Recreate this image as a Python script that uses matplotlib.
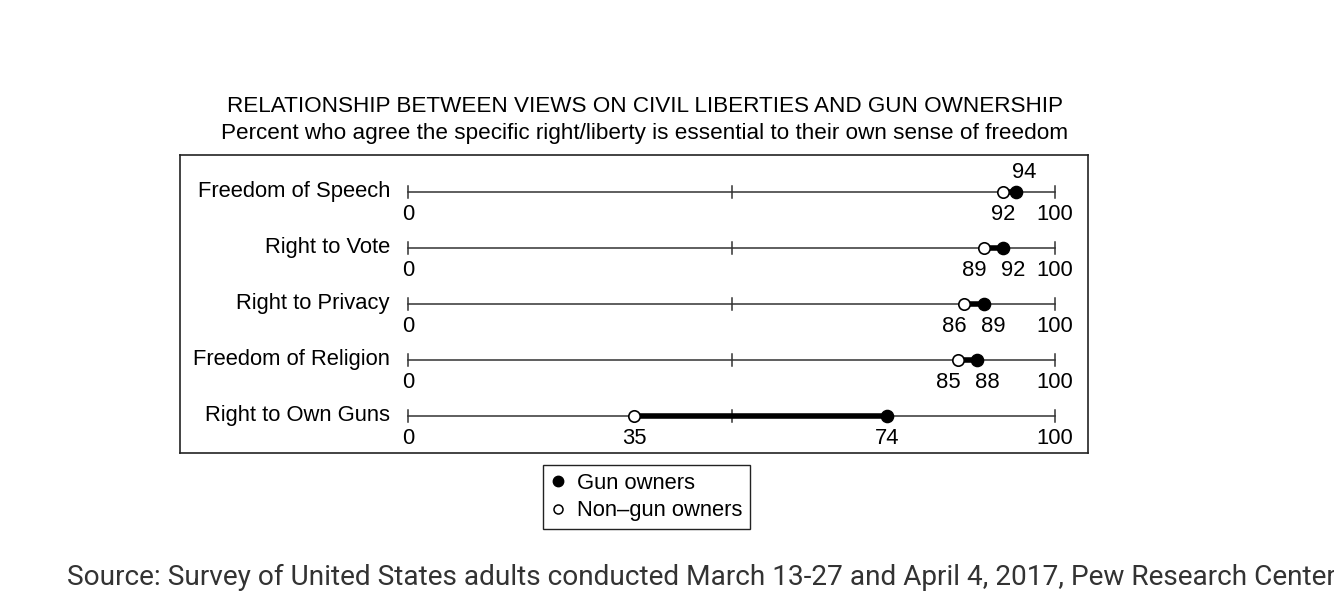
import numpy as np
import matplotlib.pyplot as plt
from matplotlib.lines import Line2D

# ข้อมูล
rights = ['Freedom of Speech', 'Right to Vote', 'Right to Privacy',
          'Freedom of Religion', 'Right to Own Guns']
gun_owners = [94, 92, 89, 88, 74]
non_gun_owners = [92, 89, 86, 85, 35]
axis_ticks = [0, 50, 100]

W, H = 1334, 592
fig = plt.figure(figsize=(W / 100, H / 100), dpi=100)
plt.rcParams['font.family'] = ['Liberation Sans', 'DejaVu Sans']

# กรอบของกราฟ (พิกเซล)
left, right, top, bottom = 180, 1088, 155, 453
ax = fig.add_axes([left / W, 1 - bottom / H, (right - left) / W, (bottom - top) / H])
px_per_unit = (1055 - 408) / 100
ax.set_xlim(-(408 - left) / px_per_unit, 100 + (right - 1055) / px_per_unit)
row_gap = 56
ax.set_ylim((bottom - 192) / row_gap, -(192 - top) / row_gap)
ax.set_xticks([])
ax.set_yticks([])
for s in ax.spines.values():
    s.set_linewidth(1.2)
    s.set_color('#222222')

fs = 15.8
for i, name in enumerate(rights):
    g = gun_owners[i]
    n = non_gun_owners[i]
    ax.plot([0, 100], [i, i], color='#333333', lw=1.1, zorder=1)
    for t in axis_ticks:
        ax.plot([t, t], [i - 0.1, i + 0.1], color='#333333', lw=1.1, zorder=1)
    ax.plot([n, g], [i, i], color='black', lw=4, solid_capstyle='butt', zorder=2)
    ax.plot(n, i, 'o', ms=8.2, mfc='white', mec='black', mew=1.2, zorder=3)
    ax.plot(g, i, 'o', ms=8.8, mfc='black', mec='black', zorder=3)
    ax.annotate(name, (0, i), xytext=(-13, 0), textcoords='offset points',
                ha='right', va='center', fontsize=fs)
    ax.annotate('0', (0, i), xytext=(0, -16), textcoords='offset points',
                ha='center', va='center', fontsize=fs)
    ax.annotate('100', (100, i), xytext=(0, -16), textcoords='offset points',
                ha='center', va='center', fontsize=fs)
    close = g - n < 5
    if i == 0:
        ax.annotate(str(n), (n, i), xytext=(0, -16), textcoords='offset points',
                    ha='center', va='center', fontsize=fs)
        ax.annotate(str(g), (g, i), xytext=(6, 14), textcoords='offset points',
                    ha='center', va='center', fontsize=fs)
    else:
        dx = 7 if close else 0
        ax.annotate(str(n), (n, i), xytext=(-dx, -16), textcoords='offset points',
                    ha='center', va='center', fontsize=fs)
        ax.annotate(str(g), (g, i), xytext=(dx, -16), textcoords='offset points',
                    ha='center', va='center', fontsize=fs)

fig.text(645 / W, 1 - 106 / H,
         'RELATIONSHIP BETWEEN VIEWS ON CIVIL LIBERTIES AND GUN OWNERSHIP',
         ha='center', va='center', fontsize=16.2)
fig.text(645 / W, 1 - 133 / H,
         'Percent who agree the specific right/liberty is essential to their own sense of freedom',
         ha='center', va='center', fontsize=16.2)

handles = [
    Line2D([], [], ls='none', marker='o', ms=7.5, mfc='black', mec='black'),
    Line2D([], [], ls='none', marker='o', ms=6.5, mfc='white', mec='black', mew=1.1),
]
leg = fig.legend(handles, ['Gun owners', 'Non\u2013gun owners'],
                 loc='upper left', bbox_to_anchor=(543 / W, 1 - 465 / H),
                 borderaxespad=0, fancybox=False, framealpha=1,
                 fontsize=fs, handlelength=0.7, handletextpad=0.5,
                 labelspacing=0.3, borderpad=0.35)
leg.get_frame().set_edgecolor('#222222')
leg.get_frame().set_linewidth(1.0)

fig.text(67 / W, 1 - 577 / H,
         'Source: Survey of United States adults conducted March 13-27 and April 4, 2017, Pew Research Center',
         ha='left', va='center', fontsize=20.2, family=['Roboto', 'DejaVu Sans'],
         color='#333333')

fig.savefig('out.png', dpi=100, facecolor='white')
